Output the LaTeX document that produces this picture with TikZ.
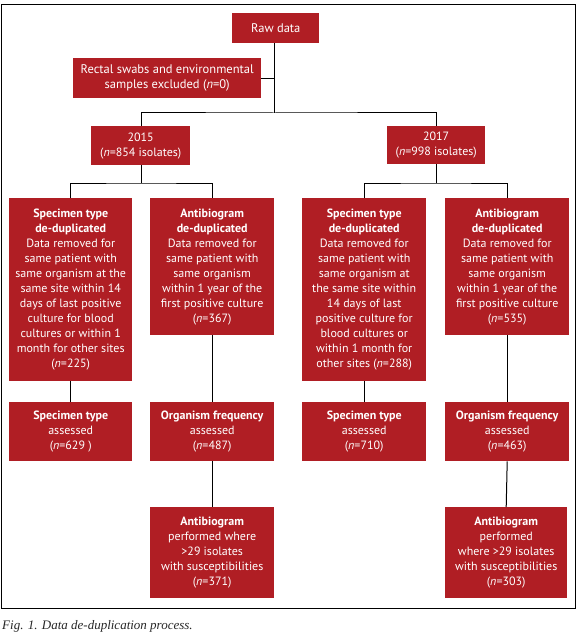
\documentclass[tikz,border=0pt]{standalone}
\usepackage{fontspec}
\setmainfont{PT Sans}
\newfontfamily\capfont{Liberation Serif}
\definecolor{boxred}{RGB}{176,30,36}
\begin{document}
\begin{tikzpicture}[x=1pt,y=-1pt,
  box/.style={fill=boxred, text=white, align=center, inner sep=0pt,
    font=\fontsize{12}{15}\selectfont, anchor=north west},
  link/.style={draw=black, line width=1pt},
  frame/.style={draw=black, line width=1pt}]
\useasboundingbox (0,0) rectangle (580,639);
\draw[frame] (1,5) rectangle (575,608);
% top
\node[box, minimum width=87, minimum height=30, font=\fontsize{12.5}{15}\selectfont] (raw) at (232,13) {Raw data};
\node[box, minimum width=188, minimum height=40, font=\fontsize{12.5}{15.5}\selectfont] (rect) at (73,58) {Rectal swabs and environmental\\samples excluded (\textit{n}=0)};
\node[box, minimum width=99, minimum height=39] (y15) at (91,126) {2015\\(\textit{n}=854 isolates)};
\node[box, minimum width=98, minimum height=38] (y17) at (387,126) {2017\\(\textit{n}=998 isolates)};
% row 2
\node[box, minimum width=123, minimum height=183] (s15) at (9,198) {\textbf{Specimen type}\\\textbf{de-duplicated}\\Data removed for\\same patient with\\same organism at the\\same site within 14\\days of last positive\\culture for blood\\cultures or within 1\\month for other sites\\(\textit{n}=225)};
\node[box, minimum width=124, minimum height=137] (a15) at (150,198) {\textbf{Antibiogram}\\\textbf{de-duplicated}\\Data removed for\\same patient with\\same organism\\within 1 year of the\\first positive culture\\(\textit{n}=367)};
\node[box, minimum width=124, minimum height=183] (s17) at (302,198) {\textbf{Specimen type}\\\textbf{de-duplicated}\\Data removed for\\same patient with\\same organism at\\the same site within\\14 days of last\\positive culture for\\blood cultures or\\within 1 month for\\other sites (\textit{n}=288)};
\node[box, minimum width=124, minimum height=137] (a17) at (445,198) {\textbf{Antibiogram}\\\textbf{de-duplicated}\\Data removed for\\same patient with\\same organism\\within 1 year of the\\first positive culture\\(\textit{n}=535)};
% row 3
\node[box, minimum width=123, minimum height=59] (st15) at (9,402) {\textbf{Specimen type}\\assessed\\(\textit{n}=629 )};
\node[box, minimum width=124, minimum height=59] (of15) at (150,402) {\textbf{Organism frequency}\\assessed\\(\textit{n}=487)};
\node[box, minimum width=124, minimum height=59] (st17) at (302,402) {\textbf{Specimen type}\\assessed\\(\textit{n}=710)};
\node[box, minimum width=124, minimum height=59] (of17) at (445,402) {\textbf{Organism frequency}\\assessed\\(\textit{n}=463)};
% row 4
\node[box, minimum width=124, minimum height=91] (ab15) at (150,507) {\textbf{Antibiogram}\\performed where\\>29 isolates\\with susceptibilities\\(\textit{n}=371)};
\node[box, minimum width=122, minimum height=91] (ab17) at (445,507) {\textbf{Antibiogram}\\performed\\where >29 isolates\\with susceptibilities\\(\textit{n}=303)};
% junctions
\coordinate (j0) at (274,113);
\coordinate (j15) at (141,183);
\coordinate (j17) at (436,183);
% connectors
\draw[link] (raw.south -| j0) -- (j0);
\draw[link] (rect.east) -- (rect.east -| j0);
\draw[link] (y15.north -| j15) |- (j0) -| (y17.north -| j17);
\draw[link] (y15.south -| j15) -- (j15);
\draw[link] (y17.south -| j17) -- (j17);
\draw[link] (s15.north) |- (j15) -| (a15.north);
\draw[link] (s17.north) |- (j17) -| (a17.north);
\draw[link] (s15.south) -- (st15.north);
\draw[link] (a15.south) -- (of15.north);
\draw[link] (s17.south) -- (st17.north);
\draw[link] (a17.south) -- (of17.north);
\draw[link] (of15.south) -- (ab15.north);
\draw[link] (of17.south) -- (ab17.north);
% caption
\node[anchor=west, inner sep=0pt, text=black!85, font=\capfont\itshape\fontsize{13}{15}\selectfont] (cap) at (2,626) {Fig. 1. Data de-duplication process.};
\end{tikzpicture}
\end{document}
